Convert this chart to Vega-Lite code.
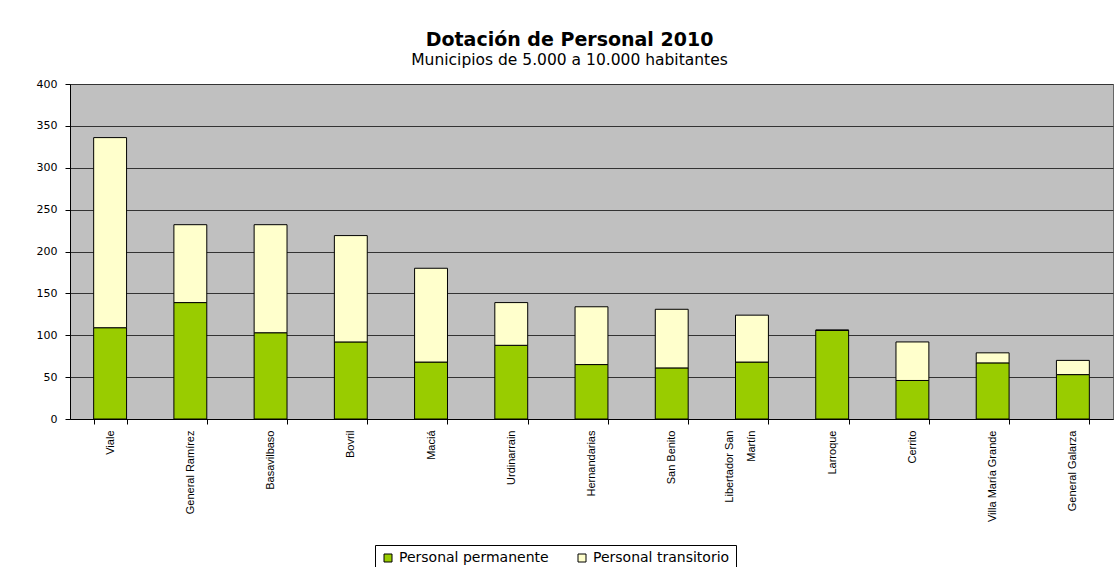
{
  "$schema": "https://vega.github.io/schema/vega-lite/v6.json",
  "autosize": "none",
  "width": 1043,
  "height": 335,
  "padding": {"left": 70, "top": 84, "right": 3, "bottom": 148},
  "background": "white",
  "title": {
    "text": "Dotación de Personal 2010",
    "subtitle": "Municipios de 5.000 a 10.000 habitantes",
    "anchor": "middle",
    "frame": "group",
    "dx": -22,
    "offset": 10,
    "font": "DejaVu Sans",
    "fontSize": 19,
    "fontWeight": "bold",
    "color": "black",
    "subtitleFont": "DejaVu Sans",
    "subtitleFontSize": 15.5,
    "subtitleColor": "black",
    "subtitlePadding": 3
  },
  "data": {
    "values": [
      {"municipio": "Viale", "tipo": "Personal permanente", "personal": 109},
      {"municipio": "Viale", "tipo": "Personal transitorio", "personal": 227},
      {"municipio": "General Ramírez", "tipo": "Personal permanente", "personal": 139},
      {"municipio": "General Ramírez", "tipo": "Personal transitorio", "personal": 93},
      {"municipio": "Basavilbaso", "tipo": "Personal permanente", "personal": 103},
      {"municipio": "Basavilbaso", "tipo": "Personal transitorio", "personal": 129},
      {"municipio": "Bovril", "tipo": "Personal permanente", "personal": 92},
      {"municipio": "Bovril", "tipo": "Personal transitorio", "personal": 127},
      {"municipio": "Maciá", "tipo": "Personal permanente", "personal": 68},
      {"municipio": "Maciá", "tipo": "Personal transitorio", "personal": 112},
      {"municipio": "Urdinarrain", "tipo": "Personal permanente", "personal": 88},
      {"municipio": "Urdinarrain", "tipo": "Personal transitorio", "personal": 51},
      {"municipio": "Hernandarias", "tipo": "Personal permanente", "personal": 65},
      {"municipio": "Hernandarias", "tipo": "Personal transitorio", "personal": 69},
      {"municipio": "San Benito", "tipo": "Personal permanente", "personal": 61},
      {"municipio": "San Benito", "tipo": "Personal transitorio", "personal": 70},
      {"municipio": "Libertador San Martín", "tipo": "Personal permanente", "personal": 68},
      {"municipio": "Libertador San Martín", "tipo": "Personal transitorio", "personal": 56},
      {"municipio": "Larroque", "tipo": "Personal permanente", "personal": 106},
      {"municipio": "Larroque", "tipo": "Personal transitorio", "personal": 0},
      {"municipio": "Cerrito", "tipo": "Personal permanente", "personal": 46},
      {"municipio": "Cerrito", "tipo": "Personal transitorio", "personal": 46},
      {"municipio": "Villa María Grande", "tipo": "Personal permanente", "personal": 67},
      {"municipio": "Villa María Grande", "tipo": "Personal transitorio", "personal": 12},
      {"municipio": "General Galarza", "tipo": "Personal permanente", "personal": 53},
      {"municipio": "General Galarza", "tipo": "Personal transitorio", "personal": 17}
    ]
  },
  "mark": {"type": "bar", "stroke": "black", "strokeWidth": 1},
  "encoding": {
    "x": {
      "field": "municipio",
      "type": "nominal",
      "sort": null,
      "scale": {"paddingInner": 0.59, "paddingOuter": 0.295},
      "axis": {
        "title": null,
        "labelAngle": -90,
        "labelAlign": "right",
        "labelBaseline": "middle",
        "labelFont": "Liberation Sans",
        "labelFontSize": 11,
        "labelColor": "black",
        "labelPadding": 6,
        "labelLimit": 200,
        "labelLineHeight": 22,
        "labelOffset": {"condition": {"test": "datum.label == 'Libertador San Martín'", "value": -22}, "value": 0},
        "labelExpr": "datum.label == 'Libertador San Martín' ? ['Libertador San', 'Martín'] : datum.label",
        "tickBand": "extent",
        "tickSize": 5,
        "tickColor": "black",
        "domainColor": "black",
        "grid": false
      }
    },
    "y": {
      "field": "personal",
      "type": "quantitative",
      "aggregate": "sum",
      "stack": "zero",
      "scale": {"domain": [0, 400], "nice": false},
      "axis": {
        "title": null,
        "values": [0, 50, 100, 150, 200, 250, 300, 350, 400],
        "labelFont": "DejaVu Sans",
        "labelFontSize": 11,
        "labelColor": "black",
        "labelPadding": 8,
        "tickSize": 5,
        "tickColor": "black",
        "domainColor": "black",
        "grid": true,
        "gridColor": "#333333",
        "gridWidth": 1,
        "gridOpacity": 1
      }
    },
    "color": {
      "field": "tipo",
      "type": "nominal",
      "scale": {
        "domain": ["Personal permanente", "Personal transitorio"],
        "range": ["#99CC00", "#FFFFCC"]
      },
      "legend": {
        "title": null,
        "orient": "none",
        "direction": "horizontal",
        "legendX": 305,
        "legendY": 461,
        "symbolType": "square",
        "symbolSize": 64,
        "symbolStrokeColor": "black",
        "symbolStrokeWidth": 1,
        "symbolOpacity": 1,
        "labelFont": "DejaVu Sans",
        "labelFontSize": 14,
        "labelColor": "black",
        "columnPadding": 26,
        "padding": 6,
        "strokeColor": "black",
        "fillColor": "white"
      }
    },
    "order": {"field": "tipo", "sort": "ascending"}
  },
  "config": {
    "view": {"fill": "#C0C0C0", "stroke": "#666666"}
  }
}
